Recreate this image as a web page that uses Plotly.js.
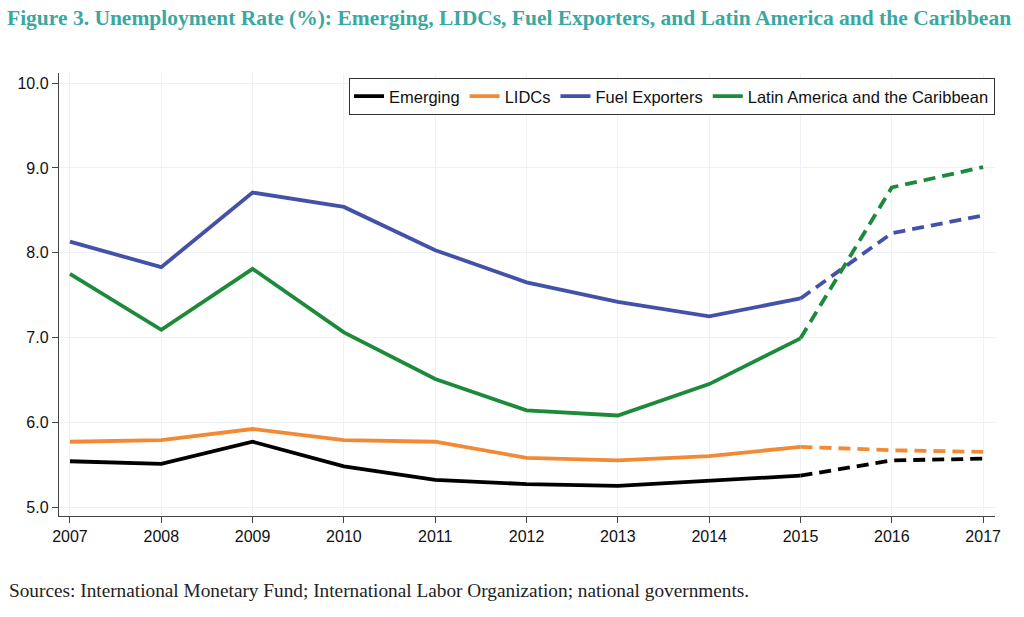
<!DOCTYPE html>
<html>
<head>
<meta charset="utf-8">
<script src="https://cdn.plot.ly/plotly-3.0.1.min.js"></script>
<style>html,body{margin:0;padding:0;background:#fff;}#chart{width:1024px;height:617px;}</style>
</head>
<body>
<div id="chart"></div>
<script>
const years = [2007, 2008, 2009, 2010, 2011, 2012, 2013, 2014, 2015, 2016, 2017];
const emerging = [5.54, 5.51, 5.77, 5.48, 5.32, 5.27, 5.25, 5.31, 5.37, 5.55, 5.57];
const lidcs = [5.77, 5.79, 5.92, 5.79, 5.77, 5.58, 5.55, 5.60, 5.71, 5.67, 5.65];
const fuelExporters = [8.13, 7.83, 8.71, 8.54, 8.03, 7.65, 7.42, 7.25, 7.46, 8.23, 8.44];
const latinAmerica = [7.75, 7.09, 7.81, 7.06, 6.51, 6.14, 6.08, 6.45, 6.99, 8.77, 9.01];
const seriesNames = ["Emerging", "LIDCs", "Fuel Exporters", "Latin America and the Caribbean"];
const colors = ["#000000", "#f28a35", "#4352a8", "#1d8a3a"];
const lastActualYear = 2015;
const yTicks = [5, 6, 7, 8, 9, 10];

const allSeries = [emerging, lidcs, fuelExporters, latinAmerica];
const cut = years.indexOf(lastActualYear);
const traces = [];
allSeries.forEach((vals, i) => {
  traces.push({
    x: years.slice(0, cut + 1), y: vals.slice(0, cut + 1),
    type: 'scatter', mode: 'lines', name: seriesNames[i],
    line: {color: colors[i], width: 3.8}, legendgroup: 'g' + i
  });
});
allSeries.forEach((vals, i) => {
  traces.push({
    x: years.slice(cut), y: vals.slice(cut),
    type: 'scatter', mode: 'lines', name: seriesNames[i], showlegend: false,
    line: {color: colors[i], width: 3.8, dash: '12px,7px'}, legendgroup: 'g' + i
  });
});

const tickFont = {family: 'Liberation Sans, Arial, sans-serif', size: 16, color: '#111'};
const layout = {
  width: 1024, height: 617,
  margin: {l: 59, r: 29, t: 73, b: 101},
  paper_bgcolor: '#fff', plot_bgcolor: '#fff',
  showlegend: true,
  title: {
    text: 'Figure 3. Unemployment Rate (%): Emerging, LIDCs, Fuel Exporters, and Latin America and the Caribbean',
    font: {family: 'Liberation Serif, serif', size: 21.5, color: '#3aa8a0', weight: 'bold'},
    x: 7/1024, xanchor: 'left', xref: 'container',
    y: 1 - 17/617, yanchor: 'middle', yref: 'container'
  },
  xaxis: {
    range: [2006.88, 2017.13],
    tickvals: years, ticktext: years.map(String),
    showline: true, linecolor: '#444', linewidth: 1.2,
    ticks: 'outside', ticklen: 6, tickcolor: '#444',
    showgrid: true, gridcolor: '#eef1f5', gridwidth: 1,
    zeroline: false,
    tickfont: tickFont
  },
  yaxis: {
    range: [4.894, 10.12],
    tickvals: yTicks, ticktext: yTicks.map(v => v.toFixed(1)),
    showline: true, linecolor: '#444', linewidth: 1.2,
    ticks: 'outside', ticklen: 6, tickcolor: '#444',
    showgrid: true, gridcolor: '#eef1f5', gridwidth: 1,
    zeroline: false,
    tickfont: tickFont
  },
  legend: {
    orientation: 'h', x: 1, xanchor: 'right', y: 0.989, yanchor: 'top',
    bordercolor: '#333', borderwidth: 1, bgcolor: '#fff',
    font: {family: 'Liberation Sans, Arial, sans-serif', size: 16.5, color: '#111'},
    itemwidth: 30
  },
  annotations: [{
    text: 'Sources: International Monetary Fund; International Labor Organization; national governments.',
    xref: 'paper', yref: 'paper', x: -52/936, y: -(590-516)/443,
    xanchor: 'left', yanchor: 'middle', showarrow: false,
    font: {family: 'Liberation Serif, serif', size: 19.3, color: '#222'}
  }]
};

Plotly.newPlot('chart', traces, layout, {displayModeBar: false, staticPlot: true});
</script>
</body>
</html>
